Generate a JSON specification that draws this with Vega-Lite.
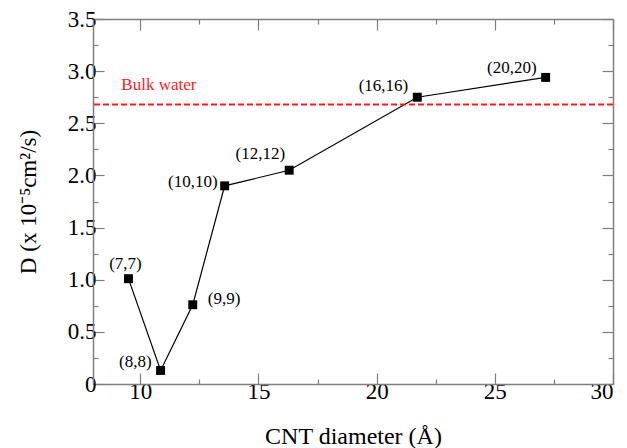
{
  "$schema": "https://vega.github.io/schema/vega-lite/v6.json",
  "width": 520,
  "height": 365,
  "autosize": {"type": "none"},
  "padding": {"left": 93, "top": 19, "right": 14, "bottom": 64},
  "background": "white",
  "config": {
    "view": {"stroke": null},
    "font": "Liberation Serif",
    "mark": {"font": "Liberation Serif"},
    "text": {"font": "Liberation Serif", "fontSize": 17},
    "axis": {
      "grid": false,
      "domainColor": "#7f7f7f",
      "domainWidth": 1.5,
      "tickColor": "#7f7f7f",
      "tickWidth": 1.2,
      "labelFont": "Liberation Serif",
      "labelFontSize": 23,
      "labelColor": "black",
      "titleFont": "Liberation Serif",
      "titleFontSize": 24,
      "titleFontWeight": "normal",
      "titleColor": "black"
    }
  },
  "datasets": {
    "cnt": [
      {"tube": "(7,7)", "diameter": 9.5, "D": 1.01},
      {"tube": "(8,8)", "diameter": 10.86, "D": 0.13},
      {"tube": "(9,9)", "diameter": 12.22, "D": 0.76},
      {"tube": "(10,10)", "diameter": 13.57, "D": 1.9},
      {"tube": "(12,12)", "diameter": 16.3, "D": 2.05},
      {"tube": "(16,16)", "diameter": 21.72, "D": 2.75},
      {"tube": "(20,20)", "diameter": 27.15, "D": 2.94}
    ],
    "bulk": [{"D": 2.68, "label": "Bulk water"}]
  },
  "layer": [
    {
      "data": {"name": "cnt"},
      "mark": {"type": "line", "color": "black", "strokeWidth": 1.2},
      "encoding": {
        "x": {"field": "diameter", "type": "quantitative",
          "scale": {"domain": [8, 30], "nice": false, "zero": false},
          "axis": {"orient": "bottom", "values": [10, 15, 20, 25, 30], "tickSize": -11, "labelPadding": 7, "title": "CNT diameter (Å)", "titlePadding": 21}},
        "y": {"field": "D", "type": "quantitative",
          "scale": {"domain": [0, 3.5], "nice": false, "zero": false},
          "axis": {"orient": "left", "values": [0, 0.5, 1, 1.5, 2, 2.5, 3, 3.5], "tickSize": -11, "labelPadding": 8,
            "labelExpr": "datum.value == 0 ? '0' : format(datum.value, '.1f')",
            "title": "D (x 10⁻⁵cm²/s)", "titleFontSize": 23, "titleX": -65, "titleBaseline": "middle", "titleAngle": -90}}
      }
    },
    {
      "data": {"name": "cnt"},
      "mark": {"type": "point", "shape": "square", "filled": true, "color": "black", "size": 80, "opacity": 1},
      "encoding": {
        "x": {"field": "diameter", "type": "quantitative",
          "axis": {"orient": "top", "values": [10, 15, 20, 25, 30], "tickSize": -11, "labels": false, "title": null}},
        "y": {"field": "D", "type": "quantitative",
          "axis": {"orient": "right", "values": [0, 0.5, 1, 1.5, 2, 2.5, 3, 3.5], "tickSize": -11, "labels": false, "title": null}}
      }
    },
    {
      "data": {"name": "cnt"},
      "transform": [{"filter": "datum.tube == '(7,7)'"}],
      "mark": {"type": "text", "fontSize": 17, "font": "Liberation Serif", "color": "black", "align": "center", "baseline": "middle", "dx": -3, "dy": -14.5},
      "encoding": {
        "x": {"field": "diameter", "type": "quantitative",
          "axis": {"orient": "bottom", "values": [12.5, 17.5, 22.5, 27.5], "tickSize": -5, "labels": false, "domain": false, "title": null}},
        "y": {"field": "D", "type": "quantitative",
          "axis": {"orient": "left", "values": [0.25, 0.75, 1.25, 1.75, 2.25, 2.75, 3.25], "tickSize": -5, "labels": false, "domain": false, "title": null}},
        "text": {"field": "tube"}
      }
    },
    {
      "data": {"name": "cnt"},
      "transform": [{"filter": "datum.tube == '(8,8)'"}],
      "mark": {"type": "text", "fontSize": 17, "font": "Liberation Serif", "color": "black", "align": "right", "baseline": "middle", "dx": -9, "dy": -8},
      "encoding": {
        "x": {"field": "diameter", "type": "quantitative",
          "axis": {"orient": "top", "values": [12.5, 17.5, 22.5, 27.5], "tickSize": -5, "labels": false, "domain": false, "title": null}},
        "y": {"field": "D", "type": "quantitative",
          "axis": {"orient": "right", "values": [0.25, 0.75, 1.25, 1.75, 2.25, 2.75, 3.25], "tickSize": -5, "labels": false, "domain": false, "title": null}},
        "text": {"field": "tube"}
      }
    },
    {
      "data": {"name": "cnt"},
      "transform": [{"filter": "datum.tube == '(9,9)'"}],
      "mark": {"type": "text", "fontSize": 17, "font": "Liberation Serif", "color": "black", "align": "left", "baseline": "middle", "dx": 15, "dy": -6},
      "encoding": {
        "x": {"field": "diameter", "type": "quantitative", "axis": null},
        "y": {"field": "D", "type": "quantitative", "axis": null},
        "text": {"field": "tube"}
      }
    },
    {
      "data": {"name": "cnt"},
      "transform": [{"filter": "datum.tube == '(10,10)'"}],
      "mark": {"type": "text", "fontSize": 17, "font": "Liberation Serif", "color": "black", "align": "right", "baseline": "middle", "dx": -7, "dy": -4},
      "encoding": {
        "x": {"field": "diameter", "type": "quantitative", "axis": null},
        "y": {"field": "D", "type": "quantitative", "axis": null},
        "text": {"field": "tube"}
      }
    },
    {
      "data": {"name": "cnt"},
      "transform": [{"filter": "datum.tube == '(12,12)'"}],
      "mark": {"type": "text", "fontSize": 17, "font": "Liberation Serif", "color": "black", "align": "right", "baseline": "middle", "dx": -4, "dy": -16},
      "encoding": {
        "x": {"field": "diameter", "type": "quantitative", "axis": null},
        "y": {"field": "D", "type": "quantitative", "axis": null},
        "text": {"field": "tube"}
      }
    },
    {
      "data": {"name": "cnt"},
      "transform": [{"filter": "datum.tube == '(16,16)'"}],
      "mark": {"type": "text", "fontSize": 17, "font": "Liberation Serif", "color": "black", "align": "right", "baseline": "middle", "dx": -9, "dy": -11},
      "encoding": {
        "x": {"field": "diameter", "type": "quantitative", "axis": null},
        "y": {"field": "D", "type": "quantitative", "axis": null},
        "text": {"field": "tube"}
      }
    },
    {
      "data": {"name": "cnt"},
      "transform": [{"filter": "datum.tube == '(20,20)'"}],
      "mark": {"type": "text", "fontSize": 17, "font": "Liberation Serif", "color": "black", "align": "right", "baseline": "middle", "dx": -9, "dy": -9},
      "encoding": {
        "x": {"field": "diameter", "type": "quantitative", "axis": null},
        "y": {"field": "D", "type": "quantitative", "axis": null},
        "text": {"field": "tube"}
      }
    },
    {
      "data": {"name": "bulk"},
      "mark": {"type": "rule", "color": "#ff1a1a", "strokeWidth": 2, "strokeDash": [6, 3]},
      "encoding": {
        "y": {"field": "D", "type": "quantitative", "axis": null}
      }
    },
    {
      "data": {"name": "bulk"},
      "mark": {"type": "text", "fontSize": 17, "font": "Liberation Serif", "color": "#ff1a1a", "align": "left", "baseline": "middle", "dy": -19.5},
      "encoding": {
        "x": {"datum": 9.2, "type": "quantitative", "axis": null},
        "y": {"field": "D", "type": "quantitative", "axis": null},
        "text": {"field": "label"}
      }
    }
  ]
}
